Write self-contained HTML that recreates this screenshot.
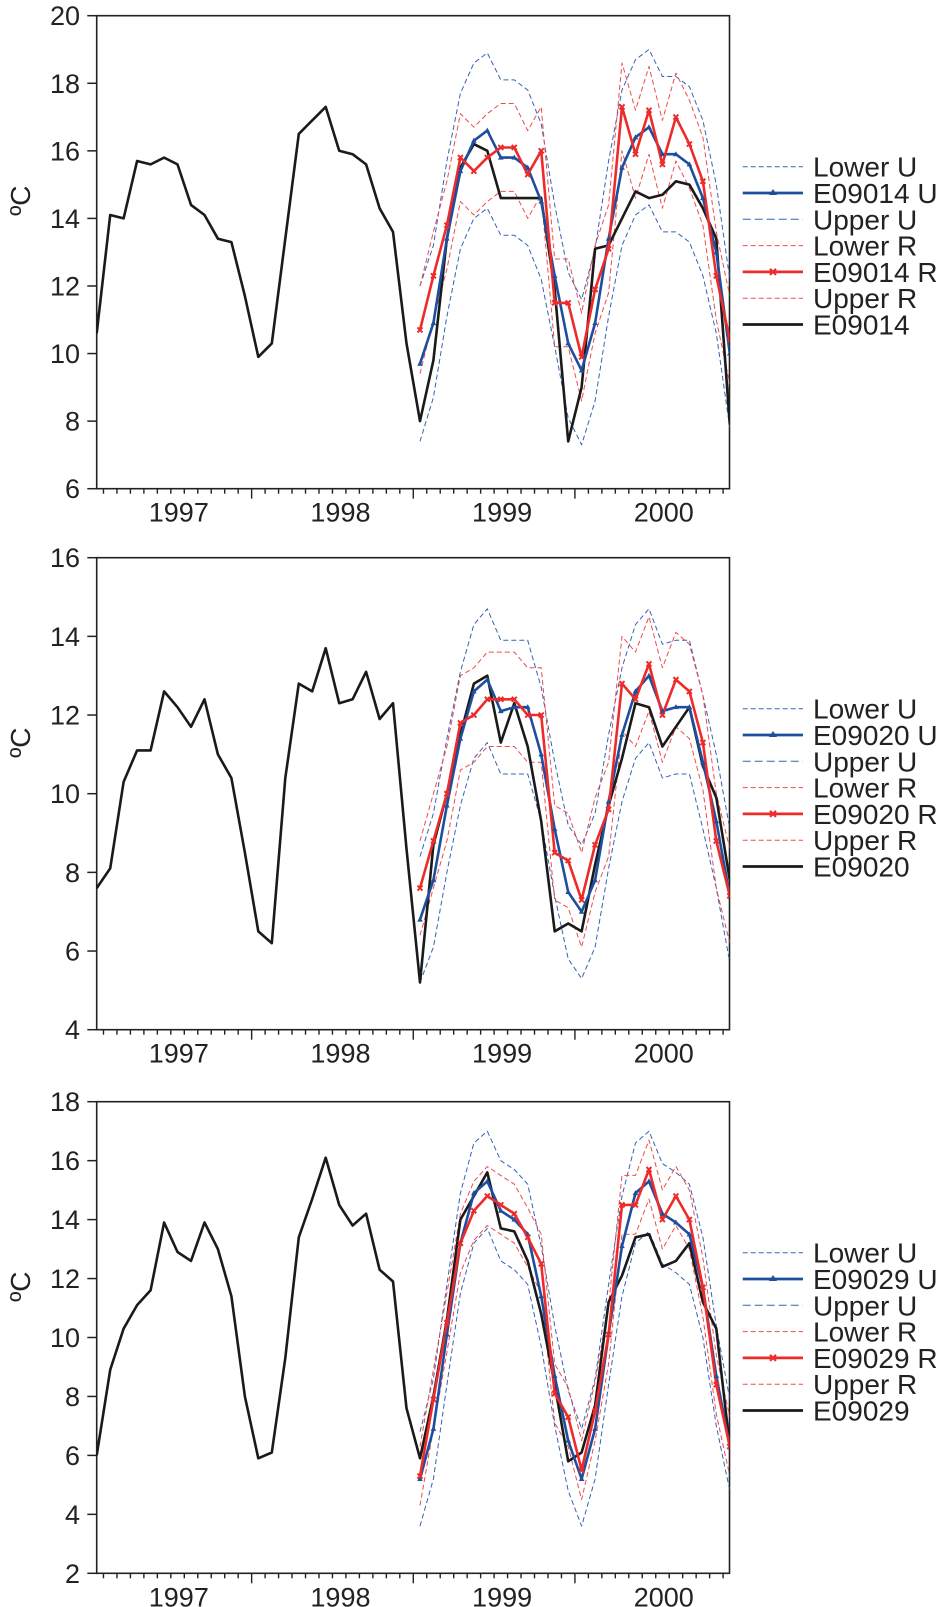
<!DOCTYPE html>
<html><head><meta charset="utf-8"><style>
html,body{margin:0;padding:0;background:#fff}
svg{display:block}
text{font-family:"Liberation Sans",Arial,sans-serif;fill:#222}
</style></head><body>
<svg id="chart" width="942" height="1607" viewBox="0 0 942 1607" xmlns="http://www.w3.org/2000/svg"></svg>
<script>
// shared
const months = 48; // Jan 1997 .. Dec 2000
const forecastStart = 24;
const yearLabels = ["1997","1998","1999","2000"];

// panel 1 (E09014)
const p1Ticks = [6,8,10,12,14,16,18,20];
const p1Actual = [10.6,14.1,14.0,15.7,15.6,15.8,15.6,14.4,14.1,13.4,13.3,11.7,9.9,10.3,13.4,16.5,16.9,17.3,16.0,15.9,15.6,14.3,13.6,10.3,8.0,9.8,13.4,15.5,16.2,16.0,14.6,14.6,14.6,14.6,11.9,7.4,9.0,13.1,13.2,14.0,14.8,14.6,14.7,15.1,15.0,14.3,13.4,7.9];
const p1U = [9.7,10.9,13.4,15.4,16.3,16.6,15.8,15.8,15.5,14.5,12.3,10.3,9.5,10.9,13.4,15.5,16.4,16.7,15.9,15.9,15.6,14.6,13.0,10.0];
const p1UpperU = [12.0,13.2,15.7,17.7,18.6,18.9,18.1,18.1,17.8,16.8,14.4,12.4,11.6,13.1,15.7,17.8,18.7,19.0,18.2,18.2,17.9,16.9,15.0,12.2];
const p1LowerU = [7.4,8.7,11.1,13.1,14.0,14.3,13.5,13.5,13.2,12.2,10.2,8.1,7.3,8.6,11.1,13.2,14.1,14.4,13.6,13.6,13.3,12.3,10.6,7.8];
const p1R = [10.7,12.3,13.8,15.8,15.4,15.8,16.1,16.1,15.3,16.0,11.5,11.5,9.9,11.9,13.1,17.3,15.9,17.2,15.6,17.0,16.2,15.1,12.3,10.4];
const p1UpperR = [12.0,13.6,15.1,17.1,16.7,17.1,17.4,17.4,16.6,17.3,12.8,12.8,11.2,13.2,14.4,18.6,17.2,18.5,16.9,18.3,17.5,16.4,13.6,11.7];
const p1LowerR = [9.4,11.0,12.5,14.5,14.1,14.5,14.8,14.8,14.0,14.7,10.2,10.2,8.6,10.6,11.8,16.0,14.6,15.9,14.3,15.7,14.9,13.8,11.0,9.1];

// panel 2 (E09020)
const p2Ticks = [4,6,8,10,12,14,16];
const p2Actual = [7.6,8.1,10.3,11.1,11.1,12.6,12.2,11.7,12.4,11.0,10.4,8.5,6.5,6.2,10.4,12.8,12.6,13.7,12.3,12.4,13.1,11.9,12.3,8.6,5.2,8.7,10.0,11.5,12.8,13.0,11.3,12.3,11.2,9.3,6.5,6.7,6.5,8.2,9.7,10.9,12.3,12.2,11.2,11.7,12.2,10.7,9.9,7.8];
const p2U = [6.8,7.8,9.7,11.4,12.6,12.9,12.1,12.2,12.2,11.0,9.1,7.5,7.0,7.8,9.8,11.5,12.6,13.0,12.1,12.2,12.2,10.8,9.3,7.4];
const p2UpperU = [8.4,9.5,11.4,13.1,14.3,14.7,13.9,13.9,13.9,12.7,10.8,9.2,8.7,9.5,11.5,13.2,14.3,14.7,13.8,13.9,13.9,12.5,11.0,9.1];
const p2LowerU = [5.2,6.1,8.0,9.7,10.9,11.3,10.5,10.5,10.5,9.3,7.4,5.8,5.3,6.1,8.1,9.8,10.9,11.3,10.4,10.5,10.5,9.1,7.6,5.7];
const p2R = [7.6,8.8,10.0,11.8,12.0,12.4,12.4,12.4,12.0,12.0,8.5,8.3,7.3,8.7,9.6,12.8,12.4,13.3,12.0,12.9,12.6,11.3,8.8,7.4];
const p2UpperR = [8.8,10.0,11.2,13.0,13.2,13.6,13.6,13.6,13.2,13.2,9.7,9.5,8.5,9.9,10.8,14.0,13.6,14.5,13.2,14.1,13.8,12.5,10.0,8.6];
const p2LowerR = [6.4,7.6,8.8,10.6,10.8,11.2,11.2,11.2,10.8,10.8,7.3,7.1,6.1,7.5,8.4,11.6,11.2,12.1,10.8,11.7,11.4,10.1,7.6,6.2];

// panel 3 (E09029)
const p3Ticks = [2,4,6,8,10,12,14,16,18];
const p3Actual = [6.0,8.9,10.3,11.1,11.6,13.9,12.9,12.6,13.9,13.0,11.4,8.0,5.9,6.1,9.3,13.4,14.7,16.1,14.5,13.8,14.2,12.3,11.9,7.6,5.9,8.0,10.6,14.0,14.8,15.6,13.7,13.6,12.6,10.8,8.4,5.8,6.1,7.7,11.2,12.1,13.4,13.5,12.4,12.6,13.2,11.2,10.3,6.3];
const p3U = [5.2,6.9,10.1,13.2,14.9,15.3,14.3,14.0,13.5,11.4,8.7,6.5,5.2,6.9,10.1,13.1,14.9,15.3,14.2,13.9,13.5,11.7,8.7,6.3];
const p3UpperU = [6.8,8.6,11.8,14.9,16.6,17.0,16.0,15.7,15.2,13.1,10.4,8.2,6.9,8.6,11.8,14.8,16.6,17.0,15.9,15.6,15.2,13.4,10.4,7.9];
const p3LowerU = [3.6,5.2,8.4,11.5,13.2,13.7,12.6,12.3,11.8,9.7,7.0,4.8,3.6,5.2,8.4,11.4,13.2,13.6,12.5,12.2,11.8,10.0,7.0,4.8];
const p3R = [5.3,7.9,10.5,13.2,14.3,14.8,14.5,14.2,13.4,12.5,8.1,7.3,5.5,7.5,10.1,14.5,14.5,15.7,14.0,14.8,14.0,11.7,8.4,6.3];
const p3UpperR = [6.3,8.9,11.5,14.2,15.3,15.8,15.5,15.2,14.4,13.5,9.1,8.3,6.5,8.5,11.1,15.5,15.5,16.7,15.0,15.8,15.0,12.7,9.4,7.3];
const p3LowerR = [4.3,6.9,9.5,12.2,13.3,13.8,13.5,13.2,12.4,11.5,7.1,6.3,4.5,6.5,9.1,13.5,13.5,14.7,13.0,13.8,13.0,10.7,7.4,5.3];

const NS = "http://www.w3.org/2000/svg";
const svg = document.getElementById("chart");
const BLUE = "#1d4f9e", RED = "#ee2b2b", BLUE_D = "#3563b5", RED_D = "#f04a4a", BLACK = "#1a1a1a";
const X0 = 96.7, X1 = 729.5, STEP = 13.47;
function xPos(i){ return X0 + STEP * i; }
function mk(tag, attrs, parent){
  const e = document.createElementNS(NS, tag);
  for (const k in attrs) e.setAttribute(k, attrs[k]);
  (parent || svg).appendChild(e);
  return e;
}

function panel(id, top, bottom, ticks, actual, U, upU, loU, R, upR, loR, station){
  const yMin = ticks[0], yMax = ticks[ticks.length-1];
  const yPos = v => bottom - (v - yMin) / (yMax - yMin) * (bottom - top);
  const g = mk("g", {});
  
  

  const fr = mk("rect", {x:X0, y:top, width:X1-X0, height:bottom-top, fill:"none", stroke:"#222", "stroke-width":1.6}, g);
  
  

  ticks.forEach(t => {
    const y = yPos(t);
    const tk = mk("line", {x1:87.3, x2:X0, y1:y, y2:y, stroke:"#222", "stroke-width":1.5}, g);
    
    
    const tl = mk("text", {x:80, y:y+9.5, "text-anchor":"end", "font-size":27}, g);
    tl.textContent = t;
    
    
  });

  for (let k = 1; k < months; k++){
    const x = 90 + STEP * k;
    const major = (k % 12 === 0);
    const tk = mk("line", {x1:x, x2:x, y1:bottom, y2:bottom + (major ? 10 : 5), stroke:"#222", "stroke-width":1.4}, g);
    
    
  }
  yearLabels.forEach((lab, j) => {
    const x = 90 + STEP * (12 * j + 6) + 8;
    const t = mk("text", {x:x, y:bottom + 33, "text-anchor":"middle", "font-size":27}, g);
    t.textContent = lab;
    
    
  });

  const cy = top + 185;
  const yt = mk("text", {x:0, y:0, "font-size":28, "text-anchor":"middle", transform:"translate(30," + cy + ") rotate(-90)"}, g);
  yt.textContent = "ºC";
  
  

  const cp = mk("clipPath", {id:"clip"+id}, g);
  mk("rect", {x:X0, y:top, width:X1-X0, height:bottom-top}, cp);
  const plot = mk("g", {"clip-path":"url(#clip"+id+")"}, g);
  
  

  function line(vals, offset, color, width, dash, name){
    const pts = vals.map((v,i) => xPos(i+offset).toFixed(1) + "," + yPos(v).toFixed(1)).join(" ");
    const pl = mk("polyline", {points:pts, fill:"none", stroke:color, "stroke-width":width, "stroke-linejoin":"round"}, plot);
    if (dash) pl.setAttribute("stroke-dasharray", dash);
    
    
    return pl;
  }
  line(upU, forecastStart, BLUE_D, 1, "5,3", "upper-u-band");
  line(loU, forecastStart, BLUE_D, 1, "5,3", "lower-u-band");
  line(upR, forecastStart, RED_D, 1, "5,3", "upper-r-band");
  line(loR, forecastStart, RED_D, 1, "5,3", "lower-r-band");
  line(actual, 0, BLACK, 2.6, null, "actual-series-line");
  line(U, forecastStart, BLUE, 2.6, null, "forecast-u-line");
  line(R, forecastStart, RED, 2.6, null, "forecast-r-line");
  U.forEach((v,i) => {
    const x = xPos(i+forecastStart), y = yPos(v);
    const m = mk("path", {d:`M${x},${y-3} L${x+2.8},${y+2} L${x-2.8},${y+2} Z`, fill:BLUE}, plot);
    
    
  });
  R.forEach((v,i) => {
    const x = xPos(i+forecastStart), y = yPos(v);
    const m = mk("path", {d:`M${x-2.5},${y-2.5} L${x+2.5},${y+2.5} M${x+2.5},${y-2.5} L${x-2.5},${y+2.5}`, stroke:RED, "stroke-width":2}, plot);
    
    
  });

  const leg = mk("g", {}, g);
  
  
  const entries = [
    ["Lower U", BLUE_D, 1, "5,3", null],
    [station + " U", BLUE, 2.8, null, "tri"],
    ["Upper U", BLUE_D, 1, "8,4", null],
    ["Lower R", RED_D, 1, "5,3", null],
    [station + " R", RED, 2.8, null, "x"],
    ["Upper R", RED_D, 1, "5,3", null],
    [station, BLACK, 2.8, null, null]
  ];
  entries.forEach((e, j) => {
    const y = top + 151 + 26.3 * j;
    const eg = mk("g", {}, leg);
    
    
    const ln = mk("line", {x1:742.7, x2:803, y1:y, y2:y, stroke:e[1], "stroke-width":e[2]}, eg);
    if (e[3]) ln.setAttribute("stroke-dasharray", e[3]);
    if (e[4] === "tri") mk("path", {d:`M773,${y-4} L777,${y+2} L769,${y+2} Z`, fill:e[1]}, eg);
    if (e[4] === "x") mk("path", {d:`M770,${y-3} L776,${y+3} M776,${y-3} L770,${y+3}`, stroke:e[1], "stroke-width":2.2}, eg);
    const t = mk("text", {x:813, y:y+10, "font-size":28}, eg);
    t.textContent = e[0];
  });
}

panel(1, 15.7, 488.7, p1Ticks, p1Actual, p1U, p1UpperU, p1LowerU, p1R, p1UpperR, p1LowerR, "E09014");
panel(2, 557.7, 1029.7, p2Ticks, p2Actual, p2U, p2UpperU, p2LowerU, p2R, p2UpperR, p2LowerR, "E09020");
panel(3, 1101.7, 1573.3, p3Ticks, p3Actual, p3U, p3UpperU, p3LowerU, p3R, p3UpperR, p3LowerR, "E09029");
</script>
</body></html>
